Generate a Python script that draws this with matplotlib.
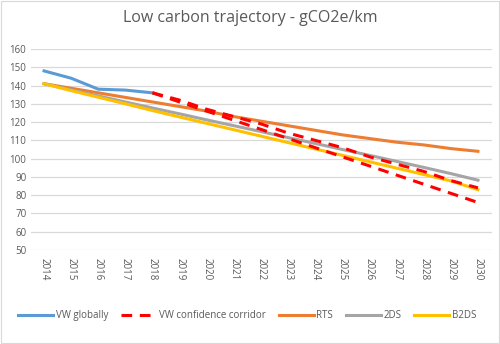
import numpy as np
import matplotlib.pyplot as plt
from matplotlib.patches import Rectangle

# ---------------------------------------------------------------
# Data (gCO2e/km)
# ---------------------------------------------------------------
years = [str(y) for y in range(2014, 2031)]

vw_global = [148, 144, 138, 137.5, 136]
corridor_years = years[4:]
corridor_high = [136, 132, 127, 123, 119, 114, 110, 106, 101, 97, 93, 88, 84]
corridor_low = [136, 131, 126, 121, 116, 111, 106, 101, 96, 91, 86, 81, 76]
rts = [141, 138.5, 136, 133.5, 131, 128.5, 126, 123, 120.5, 118, 115.5,
       113, 111, 109, 107.5, 105.5, 104]
ds2 = [141, 137.6, 134.3, 131, 127.7, 124.5, 121.2, 118, 114.8, 111.5,
       108.3, 105, 101.8, 98.5, 95.2, 91.8, 88.2]
b2ds = [141, 137.2, 133.6, 130, 126.3, 122.8, 119.3, 115.8, 112.3, 108.8,
        105.3, 101.8, 98.3, 94.8, 91.3, 87.8, 83]

x_all = np.arange(len(years))
x_corr = np.arange(4, 4 + len(corridor_years))

# ---------------------------------------------------------------
# Figure
# ---------------------------------------------------------------
plt.rcParams["font.family"] = ["Open Sans", "DejaVu Sans"]
fig = plt.figure(figsize=(5, 3.44), dpi=100)
ax = fig.add_axes([0.061, 0.2733, 0.922, 0.5843])

lw = 2.2
ax.plot(x_all, rts, color="#ED7D31", lw=lw, label="RTS", zorder=3)
ax.plot(x_all, ds2, color="#A5A5A5", lw=lw, label="2DS", zorder=3)
ax.plot(x_all, b2ds, color="#FFC000", lw=lw, label="B2DS", zorder=3)
ax.plot(x_all[:len(vw_global)], vw_global, color="#5B9BD5", lw=lw,
        label="VW globally", zorder=4)
ax.plot(x_corr, corridor_high, color="#FF0000", lw=lw, dashes=(3.5, 2.5),
        label="VW confidence corridor", zorder=5)
ax.plot(x_corr, corridor_low, color="#FF0000", lw=lw, dashes=(3.5, 2.5),
        zorder=5)

ax.set_xlim(-0.5, len(years) - 0.5)
ax.set_ylim(50, 160)
ax.set_yticks(range(50, 161, 10))
ax.set_xticks(x_all)
ax.set_xticklabels(years, rotation=-90)
ax.tick_params(axis="both", length=0, labelsize=7, labelcolor="#595959")
ax.tick_params(axis="x", pad=6)
ax.tick_params(axis="y", pad=3)
ax.grid(axis="y", color="#D9D9D9", lw=0.9)
ax.set_axisbelow(True)
for side in ["top", "right", "left", "bottom"]:
    ax.spines[side].set_visible(False)

fig.text(0.5, 0.947, "Low carbon trajectory - gCO2e/km", ha="center",
         va="center", fontsize=11.5, color="#595959")

handles, labels = ax.get_legend_handles_labels()
order = ["VW globally", "VW confidence corridor", "RTS", "2DS", "B2DS"]
idx = [labels.index(o) for o in order]
fig.legend([handles[i] for i in idx], order, loc="center",
           bbox_to_anchor=(0.495, 0.083), ncol=5, frameon=False, fontsize=7,
           handlelength=3.6, handletextpad=0.3, columnspacing=1.3,
           labelcolor="#595959")

# light chart-area border
fig.patches.append(Rectangle((0.002, 0.003), 0.995, 0.993, transform=fig.transFigure,
                             fill=False, edgecolor="#D9D9D9", lw=0.8))

fig.savefig("out.png", dpi=100)
